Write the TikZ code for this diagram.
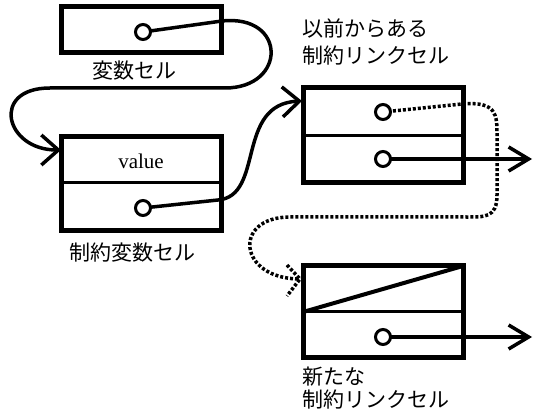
\documentclass[tikz,border=0pt]{standalone}
\usepackage{fontspec}
\setmainfont{Liberation Serif}
\newfontfamily\jp{Noto Sans CJK JP}
\usetikzlibrary{arrows.meta,calc}
\begin{document}
\begin{tikzpicture}[x=1pt,y=-1pt,
  cellbox/.style={draw,line width=5pt,minimum width=160pt,inner sep=0pt,outer sep=0pt},
  divider/.style={line width=3pt},
  ptr/.style={draw,circle,line width=3pt,minimum size=15pt,inner sep=0pt,fill=white},
  conn/.style={line width=3.5pt},
  bigtip/.style={-{Straight Barb[length=17pt,width=30pt,line width=3.5pt]}},
  righttip/.style={-{Straight Barb[length=20pt,width=24pt,line width=3.5pt]}},
  dotline/.style={line width=3.5pt,dash pattern=on 3pt off 2pt},
  lbl/.style={font=\jp\fontsize{21}{27}\selectfont,inner sep=0pt,anchor=west},
  lbl2/.style={font=\jp\fontsize{21}{27}\selectfont,inner sep=0pt,anchor=north west,align=left}
]
\useasboundingbox (0,0) rectangle (538,419);

% boxes
\node[cellbox,minimum height=46pt] (b1) at (141,30) {};
\node[cellbox,minimum height=94pt] (b2) at (141,184) {};
\node[cellbox,minimum height=95pt] (b3) at (383,135.5) {};
\node[cellbox,minimum height=92pt] (b4) at (383,312) {};

% dividers
\coordinate (d2w) at (61,183); \coordinate (d2e) at (221,183);
\coordinate (d3w) at (303,136); \coordinate (d3e) at (463,136);
\coordinate (d4w) at (303,312); \coordinate (d4e) at (463,312);
\draw[divider] (d2w) -- (d2e);
\draw[divider] (d3w) -- (d3e);
\draw[divider] (d4w) -- (d4e);
\draw[line width=4pt] (d4w) -- (b4.north east);

% value text
\node[font=\fontsize{21}{24}\selectfont,inner sep=0pt] (val) at (141,161) {value};

% labels
\node[lbl] (l1) at (92,71) {変数セル};
\node[lbl] (l2) at (69,253) {制約変数セル};
\node[lbl2] (l3) at (302,19) {以前からある\\制約リンクセル};
\node[lbl2,font=\jp\fontsize{21}{23}\selectfont] (l4) at (302,367) {新たな\\制約リンクセル};

% endpoints
\coordinate (e3) at (532,159);
\coordinate (e4) at (532,337);
\coordinate (t2) at (61,150);
\coordinate (t3) at (302,101);
\coordinate (t4) at (300,279);

% connectors
\draw[conn,bigtip] (143,32) -- (222,21)
  .. controls (287,14) and (287,88) .. (225,88)
  -- (50,88)
  .. controls (-10,88) and (5,150) .. (t2);
\draw[conn,bigtip] (143,208) -- (218,200)
  .. controls (265,196) and (235,104) .. (t3);
\draw[conn,righttip] (383,159) -- (e3);
\draw[conn,righttip] (383,337) -- (e4);
\draw[dotline] (383,112) -- (462,104)
  .. controls (497,101) and (497,115) .. (497,135)
  -- (497,195)
  .. controls (497,218) and (485,217) .. (465,217)
  -- (290,217)
  .. controls (232,217) and (238,279) .. (t4);
\draw[dotline] (287,265) -- (t4) -- (287,296);

% pointer circles
\node[ptr] (c1) at (143,32) {};
\node[ptr] (c2) at (143,208) {};
\node[ptr] (c3a) at (383,112) {};
\node[ptr] (c3b) at (383,159) {};
\node[ptr] (c4) at (383,337) {};
\end{tikzpicture}
\end{document}
